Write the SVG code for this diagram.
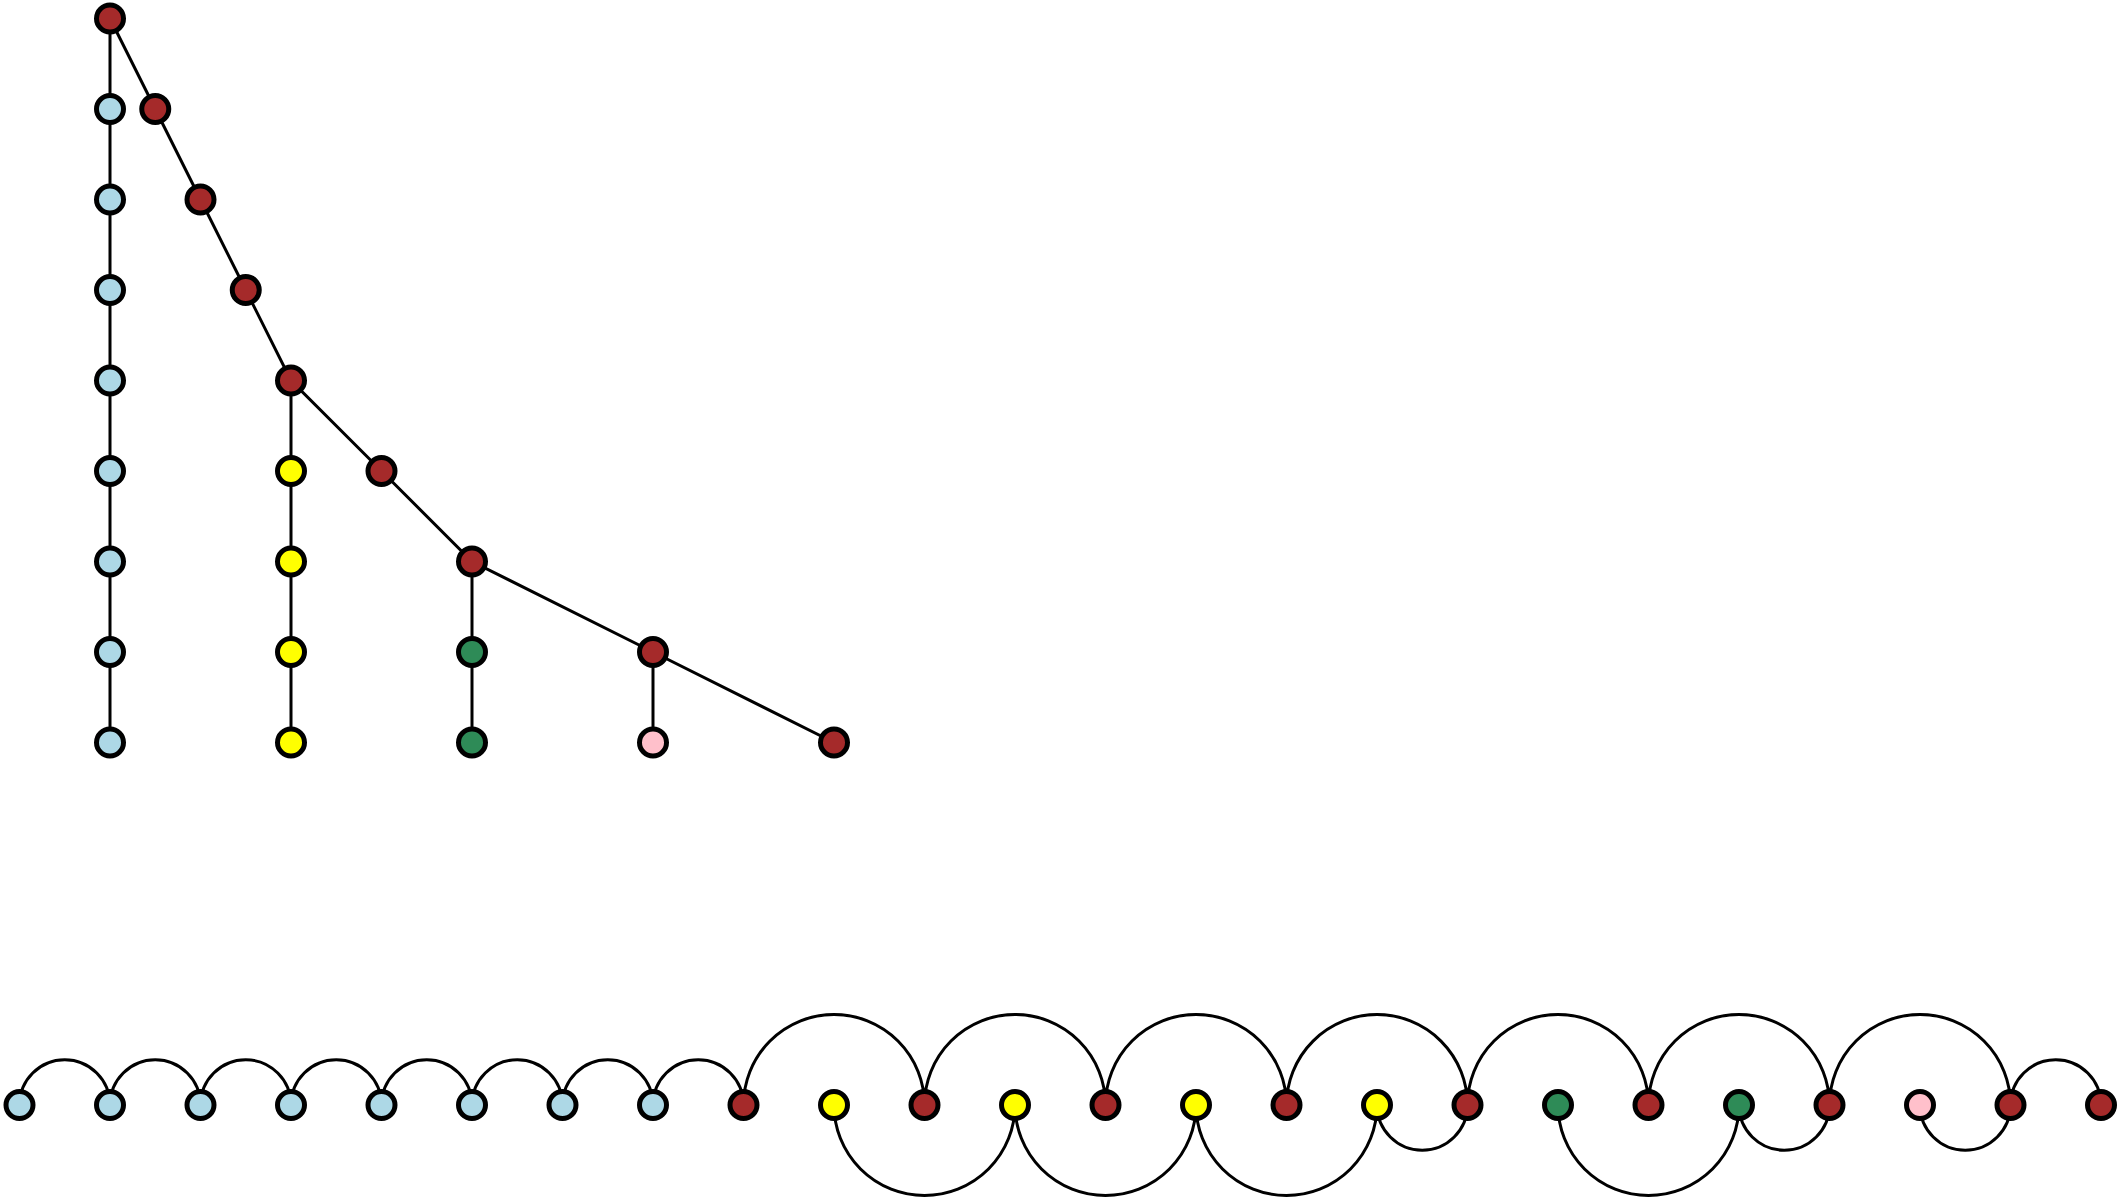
<svg xmlns="http://www.w3.org/2000/svg" width="2121" height="1199" viewBox="0 0 2121 1199">
<style>
.e{stroke:#000;stroke-width:3;fill:none}
.n{stroke:#000;stroke-width:5}
.b{fill:#ADD8E6}.r{fill:#A52A2A}.y{fill:#FFFF00}.g{fill:#2E8B57}.p{fill:#FFC0CB}
</style>
<rect width="2121" height="1199" fill="#fff"/>
<g id="connectors">
<!-- tree edges -->
<path class="e" d="M110,18.5 L110,742.5"/>
<path class="e" d="M110,18.5 L155.25,109 L200.5,199.5 L245.75,290 L291,380.5 L381.5,471 L472,561.5 L653,652 L834,742.5"/>
<path class="e" d="M291,380.5 L291,742.5"/>
<path class="e" d="M472,561.5 L472,742.5"/>
<path class="e" d="M653,652 L653,742.5"/>
<!-- arc diagram: top small -->
<path class="e" d="M19.5,1105 A45.25,45.25 0 0 1 110,1105 A45.25,45.25 0 0 1 200.5,1105 A45.25,45.25 0 0 1 291,1105 A45.25,45.25 0 0 1 381.5,1105 A45.25,45.25 0 0 1 472,1105 A45.25,45.25 0 0 1 562.5,1105 A45.25,45.25 0 0 1 653,1105 A45.25,45.25 0 0 1 743.5,1105"/>
<!-- top large -->
<path class="e" d="M743.5,1105 A90.5,90.5 0 0 1 924.5,1105 A90.5,90.5 0 0 1 1105.5,1105 A90.5,90.5 0 0 1 1286.5,1105 A90.5,90.5 0 0 1 1467.5,1105 A90.5,90.5 0 0 1 1648.5,1105 A90.5,90.5 0 0 1 1829.5,1105 A90.5,90.5 0 0 1 2010.5,1105"/>
<path class="e" d="M2010.5,1105 A45.25,45.25 0 0 1 2101,1105"/>
<!-- bottom -->
<path class="e" d="M834,1105 A90.5,90.5 0 0 0 1015,1105 A90.5,90.5 0 0 0 1196,1105 A90.5,90.5 0 0 0 1377,1105 A45.25,45.25 0 0 0 1467.5,1105"/>
<path class="e" d="M1558,1105 A90.5,90.5 0 0 0 1739,1105 A45.25,45.25 0 0 0 1829.5,1105"/>
<path class="e" d="M1920,1105 A45.25,45.25 0 0 0 2010.5,1105"/>
</g>
<g id="tree">
<circle id="t0" class="n r" cx="110" cy="18.5" r="13.5"/>
<circle id="tb1" class="n b" cx="110" cy="109" r="13.5"/>
<circle id="tb2" class="n b" cx="110" cy="199.5" r="13.5"/>
<circle id="tb3" class="n b" cx="110" cy="290" r="13.5"/>
<circle id="tb4" class="n b" cx="110" cy="380.5" r="13.5"/>
<circle id="tb5" class="n b" cx="110" cy="471" r="13.5"/>
<circle id="tb6" class="n b" cx="110" cy="561.5" r="13.5"/>
<circle id="tb7" class="n b" cx="110" cy="652" r="13.5"/>
<circle id="tb8" class="n b" cx="110" cy="742.5" r="13.5"/>
<circle id="tr1" class="n r" cx="155.25" cy="109" r="13.5"/>
<circle id="tr2" class="n r" cx="200.5" cy="199.5" r="13.5"/>
<circle id="tr3" class="n r" cx="245.75" cy="290" r="13.5"/>
<circle id="tr4" class="n r" cx="291" cy="380.5" r="13.5"/>
<circle id="tr5" class="n r" cx="381.5" cy="471" r="13.5"/>
<circle id="tr6" class="n r" cx="472" cy="561.5" r="13.5"/>
<circle id="tr7" class="n r" cx="653" cy="652" r="13.5"/>
<circle id="tr8" class="n r" cx="834" cy="742.5" r="13.5"/>
<circle id="ty1" class="n y" cx="291" cy="471" r="13.5"/>
<circle id="ty2" class="n y" cx="291" cy="561.5" r="13.5"/>
<circle id="ty3" class="n y" cx="291" cy="652" r="13.5"/>
<circle id="ty4" class="n y" cx="291" cy="742.5" r="13.5"/>
<circle id="tg1" class="n g" cx="472" cy="652" r="13.5"/>
<circle id="tg2" class="n g" cx="472" cy="742.5" r="13.5"/>
<circle id="tp1" class="n p" cx="653" cy="742.5" r="13.5"/>
</g>
<g id="row">
<circle id="a0" class="n b" cx="19.5" cy="1105" r="13.5"/>
<circle id="a1" class="n b" cx="110" cy="1105" r="13.5"/>
<circle id="a2" class="n b" cx="200.5" cy="1105" r="13.5"/>
<circle id="a3" class="n b" cx="291" cy="1105" r="13.5"/>
<circle id="a4" class="n b" cx="381.5" cy="1105" r="13.5"/>
<circle id="a5" class="n b" cx="472" cy="1105" r="13.5"/>
<circle id="a6" class="n b" cx="562.5" cy="1105" r="13.5"/>
<circle id="a7" class="n b" cx="653" cy="1105" r="13.5"/>
<circle id="a8" class="n r" cx="743.5" cy="1105" r="13.5"/>
<circle id="a9" class="n y" cx="834" cy="1105" r="13.5"/>
<circle id="a10" class="n r" cx="924.5" cy="1105" r="13.5"/>
<circle id="a11" class="n y" cx="1015" cy="1105" r="13.5"/>
<circle id="a12" class="n r" cx="1105.5" cy="1105" r="13.5"/>
<circle id="a13" class="n y" cx="1196" cy="1105" r="13.5"/>
<circle id="a14" class="n r" cx="1286.5" cy="1105" r="13.5"/>
<circle id="a15" class="n y" cx="1377" cy="1105" r="13.5"/>
<circle id="a16" class="n r" cx="1467.5" cy="1105" r="13.5"/>
<circle id="a17" class="n g" cx="1558" cy="1105" r="13.5"/>
<circle id="a18" class="n r" cx="1648.5" cy="1105" r="13.5"/>
<circle id="a19" class="n g" cx="1739" cy="1105" r="13.5"/>
<circle id="a20" class="n r" cx="1829.5" cy="1105" r="13.5"/>
<circle id="a21" class="n p" cx="1920" cy="1105" r="13.5"/>
<circle id="a22" class="n r" cx="2010.5" cy="1105" r="13.5"/>
<circle id="a23" class="n r" cx="2101" cy="1105" r="13.5"/>
</g>
</svg>
